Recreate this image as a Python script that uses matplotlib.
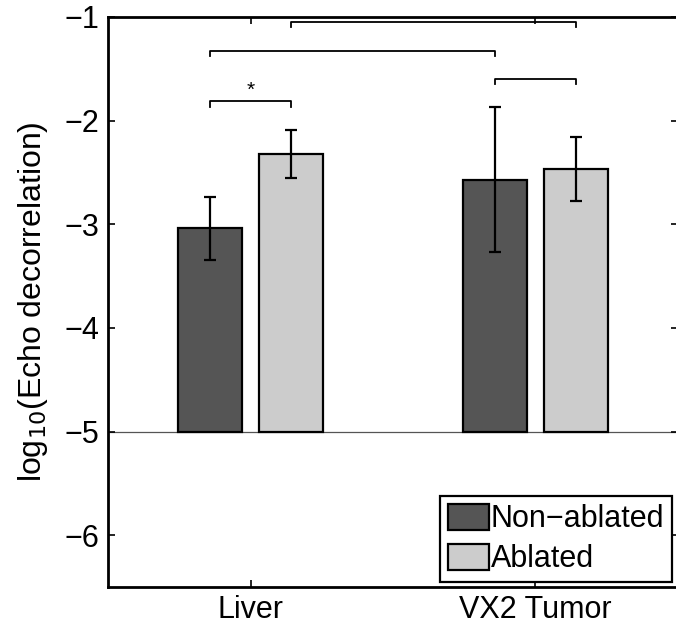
import numpy as np
import matplotlib
matplotlib.use('Agg')
import matplotlib.pyplot as plt

### Data (log10 of echo decorrelation)
grupos       = ['Liver', 'VX2 Tumor']
series       = ['Non\u2212ablated', 'Ablated']
media_nao    = [-3.04, -2.57]     # Non-ablated mean
media_abl    = [-2.32, -2.47]     # Ablated mean
erro_nao     = [0.30, 0.70]       # Non-ablated error
erro_abl     = [0.23, 0.31]       # Ablated error
base         = -5                 # bars start at -5

# brackets: (group a, series a, group b, series b, height, label)
colchetes = [
    (0, 0, 0, 1, -1.815, '*'),
    (0, 0, 1, 0, -1.33, ''),
    (1, 0, 1, 1, -1.60, ''),
    (0, 1, 1, 1, -1.05, ''),
]

plt.rcParams['font.family'] = ['Liberation Sans', 'DejaVu Sans']

cor_nao = '#555555'
cor_abl = '#cccccc'
largura = 0.225
desloc  = 0.143

fig = plt.figure(figsize=(6.76, 6.30), dpi=100)
ax = fig.add_axes([108 / 676, 43 / 630, 570 / 676, 570 / 630])

x = np.arange(1, len(grupos) + 1)
pos = [x - desloc, x + desloc]
alturas_nao = np.array(media_nao) - base
alturas_abl = np.array(media_abl) - base

ax.axhline(base, color='#555555', lw=0.9, zorder=1)
ax.bar(pos[0], alturas_nao, largura, bottom=base, color=cor_nao, edgecolor='black', lw=1.6, label=series[0], zorder=2)
ax.bar(pos[1], alturas_abl, largura, bottom=base, color=cor_abl, edgecolor='black', lw=1.6, label=series[1], zorder=2)
ax.errorbar(pos[0], media_nao, yerr=erro_nao, fmt='none', ecolor='black', elinewidth=1.6, capsize=4, capthick=1.6, zorder=3)
ax.errorbar(pos[1], media_abl, yerr=erro_abl, fmt='none', ecolor='black', elinewidth=1.6, capsize=4, capthick=1.6, zorder=3)

# Significance brackets
queda = 0.05
for ga, sa, gb, sb, h, txt in colchetes:
    xa = pos[sa][ga]
    xb = pos[sb][gb]
    ax.plot([xa, xa, xb, xb], [h - queda, h, h, h - queda], color='black', lw=1.3, zorder=3)
    if txt:
        ax.text((xa + xb) / 2, h + 0.02, txt, ha='center', va='bottom', fontsize=15)

ax.set_xlim(0.5, 2.5)
ax.set_ylim(-6.5, -1)
ax.set_xticks(x)
ax.set_xticklabels(grupos)
ax.set_yticks([-6, -5, -4, -3, -2, -1])
ax.tick_params(direction='in', length=5, width=1.2, labelsize=22, top=True, right=True, pad=6)
ax.set_ylabel('log$_{10}$(Echo decorrelation)', fontsize=23, labelpad=11)
for s in ax.spines.values():
    s.set_linewidth(2)

leg = ax.legend(loc='lower right', bbox_to_anchor=(0.9895, 0.0088), borderaxespad=0, fontsize=22,
                fancybox=False, edgecolor='black', framealpha=1, handlelength=1.35, handleheight=0.95,
                handletextpad=0.05, labelspacing=0.3, borderpad=0.25)
leg.get_frame().set_linewidth(1.6)

fig.savefig('out.png', dpi=100)
